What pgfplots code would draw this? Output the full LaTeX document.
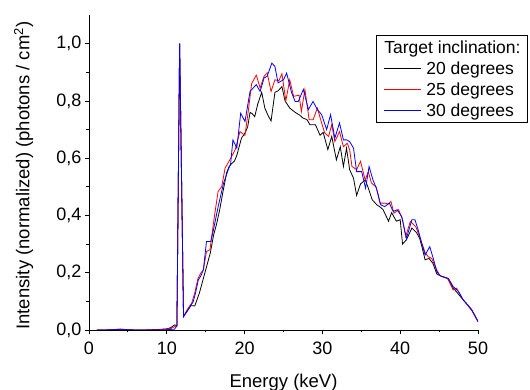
\documentclass[border=0pt]{standalone}
\usepackage{fontspec}
\setmainfont{Liberation Sans}
\usepackage{pgfplots}
\pgfplotsset{compat=1.18}
\begin{document}
\begin{tikzpicture}
\begin{axis}[
  scale only axis, width=389pt, height=315pt,
  xmin=0, xmax=50, ymin=0, ymax=1.1,
  axis x line*=bottom, axis y line*=left,
  axis line style={line width=0.8pt},
  xtick={0,10,20,30,40,50}, minor x tick num=1,
  ytick={0,0.2,0.4,0.6,0.8,1.0}, minor y tick num=1,
  tick align=outside, major tick length=4pt, minor tick length=2.5pt,
  tick style={line width=0.8pt, black},
  /pgf/number format/assume math mode=true,
  tick label style={font=\fontsize{18}{20}\selectfont},
  xticklabel style={yshift=-4pt},
  yticklabel style={/pgf/number format/.cd, use comma, fixed, fixed zerofill, precision=1},
  xlabel={Energy (keV)},
  ylabel={Intensity (normalized) (photons / cm\textsuperscript{2})},
  label style={font=\fontsize{18.5}{20}\selectfont},
  xlabel style={at={(axis description cs:0.5,-0.181)}, anchor=base},
  ylabel style={at={(axis description cs:-0.153,0.49)}, anchor=base, rotate=0},
  legend style={at={(axis description cs:1.1285,0.9365)}, anchor=north east,
    draw=black, line width=0.8pt, inner xsep=7pt, inner ysep=1.5pt,
    font=\fontsize{17.5}{21}\selectfont,
    nodes={inner sep=0pt, text height=17pt, text depth=4pt},
    column sep=5pt},
  legend cell align=left,
  legend image code/.code={\draw[#1] (0pt,0pt) -- (37pt,0pt);},
]
\addlegendimage{empty legend}
\addlegendentry{\hspace*{-42pt}Target inclination:}
\addplot[black, line width=0.8pt] coordinates {
(1,0) (2,0) (3,0.001) (4,0.002) (5,0.001) (6,0) (7,0) (8,0.001) (9,0.002) (10,0.004) (10.5,0.008) (11,0.018) (11.3,0.015) (11.65,1.0) (12.15,0.047)
(12.6,0.065) (13.1,0.085) (13.6,0.084) (14.2,0.13) (14.6,0.17) (14.9,0.20) (15.3,0.24) (15.6,0.27) (16.0,0.33) (16.4,0.37) (16.8,0.42) (17.2,0.48) (17.7,0.55) (18.0,0.57) (18.3,0.58) (18.7,0.59) (19.0,0.61) (19.3,0.64) (19.6,0.67) (20.1,0.69) (20.4,0.71) (20.7,0.76) (21.0,0.755) (21.3,0.745) (21.7,0.79) (22.2,0.83) (22.6,0.775) (23.0,0.75) (23.4,0.73) (23.9,0.83) (24.3,0.835) (24.8,0.85) (25.2,0.80) (25.8,0.775) (26.5,0.76) (27.1,0.75) (27.5,0.74) (28.0,0.735) (28.4,0.717) (29.1,0.717) (29.7,0.68) (30.1,0.69) (30.7,0.63) (31.2,0.676) (31.8,0.594) (32.3,0.64) (32.7,0.571) (33.1,0.635) (33.5,0.56) (34.0,0.53) (34.4,0.47) (34.9,0.51) (35.5,0.524) (35.9,0.496) (36.4,0.455) (37.0,0.437) (37.4,0.43) (37.8,0.42) (38.5,0.38) (38.9,0.41) (39.5,0.38) (40.0,0.385) (40.3,0.30) (40.8,0.315) (41.5,0.356) (42.1,0.34) (42.5,0.32) (42.8,0.29) (43.2,0.245) (43.7,0.25) (44.2,0.233) (44.7,0.196) (45.1,0.19) (45.5,0.185) (46.1,0.18) (46.8,0.147) (47.4,0.128) (48.1,0.105) (48.6,0.09) (49.2,0.07) (49.6,0.05) (50.0,0.029)
};
\addlegendentry{20 degrees}
\addplot[red, line width=0.8pt] coordinates {
(1,0) (2,0) (3,0.001) (4,0.003) (5,0.001) (6,0) (7,0) (8,0) (9,0.001) (10,0.003) (10.6,0.006) (11.0,0.012) (11.3,0.015) (11.65,1.0) (12.15,0.047)
(12.6,0.07) (13.2,0.094) (13.6,0.13) (14.0,0.18) (14.4,0.20) (14.7,0.21) (15.1,0.274) (15.55,0.28) (16.0,0.373) (16.3,0.43) (16.6,0.484) (17.05,0.50) (17.5,0.566) (17.8,0.58) (18.1,0.594) (18.8,0.63) (19.4,0.693) (20.05,0.68) (20.5,0.77) (20.9,0.86) (21.5,0.89) (22.0,0.845) (22.5,0.886) (22.9,0.898) (23.4,0.833) (23.9,0.874) (24.4,0.87) (24.8,0.895) (25.3,0.80) (25.8,0.874) (26.3,0.816) (27.0,0.82) (27.3,0.763) (27.75,0.84) (28.3,0.734) (28.8,0.734) (29.35,0.775) (29.9,0.723) (30.3,0.688) (30.8,0.676) (31.2,0.717) (31.6,0.658) (32.2,0.693) (32.7,0.64) (33.2,0.652) (33.5,0.63) (33.8,0.571) (34.4,0.56) (34.9,0.589) (35.5,0.524) (35.9,0.553) (36.3,0.513) (36.9,0.50) (37.4,0.443) (38.0,0.443) (38.5,0.44) (38.8,0.449) (39.2,0.408) (39.8,0.42) (40.3,0.385) (40.7,0.326) (41.3,0.379) (42.0,0.361) (42.5,0.326) (43.2,0.27) (43.6,0.256) (44.05,0.25) (44.7,0.21) (45.1,0.19) (45.5,0.186) (46.1,0.18) (46.8,0.14) (47.25,0.146) (48.1,0.105) (48.6,0.088) (49.2,0.068) (49.6,0.05) (50.0,0.029)
};
\addlegendentry{25 degrees}
\addplot[blue, line width=0.8pt] coordinates {
(1,0) (2,0) (3,0.001) (4,0.003) (5,0.001) (6,0) (7,0) (8,0) (9,0) (10,0.001) (11.0,0.003) (11.3,0.015) (11.65,1.0) (12.15,0.047)
(12.7,0.07) (13.4,0.099) (13.7,0.13) (14.05,0.175) (14.4,0.19) (14.7,0.21) (15.1,0.309) (15.65,0.309) (16.0,0.35) (16.6,0.431) (17.3,0.513) (17.9,0.56) (18.2,0.58) (18.5,0.664) (19.0,0.635) (19.5,0.757) (20.05,0.728) (20.7,0.833) (21.5,0.857) (22.0,0.833) (22.5,0.88) (22.9,0.886) (23.5,0.932) (23.9,0.92) (24.3,0.863) (25.0,0.874) (25.4,0.897) (26.05,0.828) (26.5,0.798) (26.9,0.798) (27.55,0.84) (28.2,0.77) (28.8,0.798) (29.35,0.77) (29.9,0.752) (30.55,0.70) (31.05,0.752) (31.6,0.67) (32.2,0.723) (32.7,0.664) (33.1,0.664) (33.5,0.658) (34.0,0.635) (34.4,0.553) (35.05,0.553) (35.55,0.495) (36.0,0.571) (36.5,0.524) (37.0,0.49) (37.5,0.437) (38.0,0.431) (38.6,0.443) (39.1,0.414) (39.6,0.42) (40.2,0.396) (40.8,0.32) (41.5,0.385) (41.9,0.385) (42.3,0.35) (42.8,0.30) (43.2,0.262) (43.8,0.291) (44.3,0.245) (44.7,0.204) (45.1,0.19) (45.5,0.186) (46.2,0.18) (46.8,0.152) (47.5,0.134) (48.1,0.105) (48.6,0.09) (49.2,0.07) (49.6,0.05) (50.0,0.03)
};
\addlegendentry{30 degrees}
\end{axis}
\pgfresetboundingbox
\path[use as bounding box] (-89pt,-60pt) rectangle (441pt,330pt);
\end{tikzpicture}
\end{document}
